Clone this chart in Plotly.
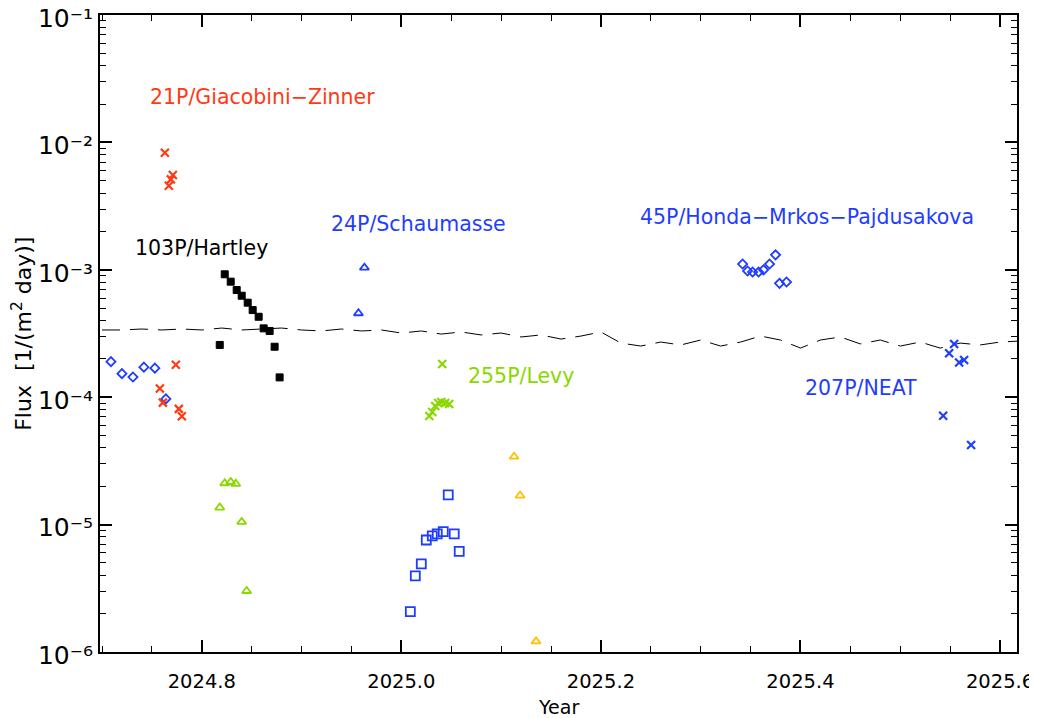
import math
import plotly.graph_objects as go

# ---------------- data ----------------
diam_left_x = [2024.709, 2024.720, 2024.731, 2024.742, 2024.753, 2024.764]
diam_left_y = [1.90e-4, 1.53e-4, 1.44e-4, 1.72e-4, 1.69e-4, 9.7e-5]

giac_x = [2024.763, 2024.767, 2024.769, 2024.771, 2024.774, 2024.758, 2024.761, 2024.777, 2024.780]
giac_y = [8.3e-3, 4.57e-3, 5.13e-3, 5.55e-3, 1.80e-4, 1.17e-4, 9.06e-5, 8.1e-5, 7.08e-5]

hart_x = [2024.823, 2024.829, 2024.835, 2024.840, 2024.846, 2024.851, 2024.857,
          2024.862, 2024.868, 2024.818, 2024.873, 2024.878]
hart_y = [9.22e-4, 8.07e-4, 6.94e-4, 6.26e-4, 5.52e-4, 4.83e-4, 4.28e-4,
          3.47e-4, 3.31e-4, 2.57e-4, 2.49e-4, 1.43e-4]

gtri_x = [2024.823, 2024.829, 2024.834, 2024.818, 2024.840, 2024.845]
gtri_y = [2.11e-5, 2.16e-5, 2.09e-5, 1.36e-5, 1.05e-5, 3.01e-6]

schau_x = [2024.963, 2024.957]
schau_y = [1.04e-3, 4.56e-4]

levy_x = [2025.028, 2025.031, 2025.034, 2025.037, 2025.040, 2025.044, 2025.048, 2025.041]
levy_y = [7.12e-5, 7.65e-5, 8.53e-5, 9.0e-5, 9.17e-5, 9.0e-5, 8.85e-5, 1.82e-4]

sq_x = [2025.009, 2025.014, 2025.020, 2025.025, 2025.031, 2025.036, 2025.042, 2025.047, 2025.053, 2025.058]
sq_y = [2.07e-6, 3.95e-6, 4.91e-6, 7.57e-6, 8.14e-6, 8.44e-6, 8.80e-6, 1.71e-5, 8.44e-6, 6.17e-6]

otri_x = [2025.113, 2025.119, 2025.135]
otri_y = [3.41e-5, 1.69e-5, 1.21e-6]

honda_x = [2025.342, 2025.347, 2025.352, 2025.358, 2025.363, 2025.369, 2025.375, 2025.379, 2025.386]
honda_y = [1.11e-3, 9.79e-4, 9.61e-4, 9.61e-4, 1.0e-3, 1.11e-3, 1.31e-3, 7.83e-4, 8.02e-4]

neat_x = [2025.554, 2025.549, 2025.559, 2025.564, 2025.543, 2025.571]
neat_y = [2.62e-4, 2.21e-4, 1.87e-4, 1.96e-4, 7.16e-5, 4.22e-5]

bg_x = [2024.70, 2024.72, 2024.74, 2024.76, 2024.78, 2024.80, 2024.82, 2024.84, 2024.86,
        2024.88, 2024.90, 2024.92, 2024.94, 2024.96, 2024.98, 2025.00, 2025.02, 2025.04,
        2025.06, 2025.08, 2025.10, 2025.12, 2025.14, 2025.16, 2025.18, 2025.20, 2025.22,
        2025.24, 2025.26, 2025.28, 2025.30, 2025.32, 2025.34, 2025.36, 2025.38, 2025.40,
        2025.42, 2025.44, 2025.46, 2025.48, 2025.50, 2025.52, 2025.54, 2025.56, 2025.58,
        2025.60, 2025.62]
bg_y = [3.37e-4, 3.37e-4, 3.43e-4, 3.37e-4, 3.43e-4, 3.37e-4, 3.49e-4, 3.37e-4, 3.43e-4,
        3.49e-4, 3.37e-4, 3.31e-4, 3.43e-4, 3.31e-4, 3.37e-4, 3.19e-4, 3.31e-4, 3.13e-4,
        3.25e-4, 3.08e-4, 3.19e-4, 2.97e-4, 3.08e-4, 2.86e-4, 3.02e-4, 3.25e-4, 2.66e-4,
        2.52e-4, 2.71e-4, 2.57e-4, 2.81e-4, 2.52e-4, 2.71e-4, 3.02e-4, 2.81e-4, 2.43e-4,
        2.81e-4, 2.97e-4, 2.62e-4, 2.81e-4, 2.52e-4, 2.71e-4, 2.43e-4, 2.66e-4, 2.57e-4,
        2.71e-4, 2.76e-4]

labels = ["21P/Giacobini−Zinner", "103P/Hartley", "24P/Schaumasse",
          "45P/Honda−Mrkos−Pajdusakova", "255P/Levy", "207P/NEAT"]
label_x = [2024.746, 2024.731, 2024.927, 2025.237, 2025.065, 2025.403]
label_y = [2.27e-2, 1.48e-3, 2.29e-3, 2.6e-3, 1.47e-4, 1.18e-4]

x_ticks = [2024.8, 2025.0, 2025.2, 2025.4, 2025.6]
y_ticks = [1e-6, 1e-5, 1e-4, 1e-3, 1e-2, 1e-1]
y_ticktext = ["10⁻⁶", "10⁻⁵", "10⁻⁴", "10⁻³", "10⁻²", "10⁻¹"]

x_title = "Year"
y_title = "Flux  [1/(m<sup>2</sup> day)]"

# ---------------- style ----------------
RED = "#ff3a12"
BLUE = "#1f3dff"
GREEN = "#8ad800"
ORANGE = "#ffc000"
BLACK = "#000000"
FONT = "DejaVu Sans"

fig = go.Figure()

fig.add_trace(go.Scatter(x=bg_x, y=bg_y, mode="lines",
                         line=dict(color=BLACK, width=1, dash="18px,10px")))


def add(xs, ys, symbol, color, size, lw=1.8):
    fig.add_trace(go.Scatter(x=xs, y=ys, mode="markers",
                             marker=dict(symbol=symbol, size=size, color=color,
                                         line=dict(color=color, width=lw))))


add(diam_left_x, diam_left_y, "diamond-open", BLUE, 7)
add(giac_x, giac_y, "x-thin", RED, 8, 2.2)
add(hart_x, hart_y, "square", BLACK, 7, 1)
add(gtri_x, gtri_y, "triangle-up-open", GREEN, 8)
add(schau_x, schau_y, "triangle-up-open", BLUE, 8)
add(levy_x, levy_y, "x-thin", GREEN, 8, 2.2)
add(sq_x, sq_y, "square-open", BLUE, 9)
add(otri_x, otri_y, "triangle-up-open", ORANGE, 8)
add(honda_x, honda_y, "diamond-open", BLUE, 7)
add(neat_x, neat_y, "x-thin", BLUE, 8, 2.2)

label_colors = [RED, BLACK, BLUE, BLUE, GREEN, BLUE]
for t, lx, ly, c in zip(labels, label_x, label_y, label_colors):
    fig.add_annotation(x=lx, y=math.log10(ly), text=t, showarrow=False,
                       xanchor="left", yanchor="middle",
                       font=dict(family=FONT, size=20.5, color=c))

# axis titles placed as paper annotations
fig.add_annotation(xref="paper", yref="paper", x=0.5, y=-0.087, text=x_title,
                   showarrow=False, xanchor="center", yanchor="middle",
                   font=dict(family=FONT, size=19, color=BLACK))
fig.add_annotation(xref="paper", yref="paper", x=-0.0858, y=0.5, text=y_title,
                   textangle=-90, showarrow=False, xanchor="center", yanchor="middle",
                   font=dict(family=FONT, size=22, color=BLACK))

minor_y = [m * 10.0 ** e for e in range(-6, -1) for m in range(2, 10)]

# page body has an 8px margin, so the plot box is offset accordingly
fig.update_layout(
    width=1037, height=718,
    margin=dict(l=92, r=28, t=7, b=74, autoexpand=False),
    paper_bgcolor="white", plot_bgcolor="white",
    showlegend=False,
    font=dict(family=FONT, size=17, color=BLACK),
)
fig.update_xaxes(
    range=[2024.698, 2025.617], tickvals=x_ticks, tickformat=".1f",
    ticks="inside", ticklen=12, tickwidth=1.5, tickcolor=BLACK,
    showline=True, linewidth=2, linecolor=BLACK, mirror="ticks",
    showgrid=False, zeroline=False, automargin=False,
    minor=dict(ticks="inside", ticklen=6, tickwidth=1.2, dtick=0.05, tick0=2024.8,
               tickcolor=BLACK, showgrid=False),
    tickfont=dict(family=FONT, size=19.5), ticklabelstandoff=11, ticklabeloverflow="allow",
)
fig.update_yaxes(
    type="log", range=[-6.0003, -0.9997], tickvals=y_ticks, ticktext=y_ticktext,
    ticks="inside", ticklen=12, tickwidth=1.5, tickcolor=BLACK,
    showline=True, linewidth=2, linecolor=BLACK, mirror="ticks",
    showgrid=False, zeroline=False, automargin=False,
    minor=dict(ticks="inside", ticklen=6, tickwidth=1.2, tickvals=minor_y,
               tickcolor=BLACK, showgrid=False),
    tickfont=dict(size=25), ticklabeloverflow="allow", ticklabelshift=3,
)

fig.write_html("out.html")
